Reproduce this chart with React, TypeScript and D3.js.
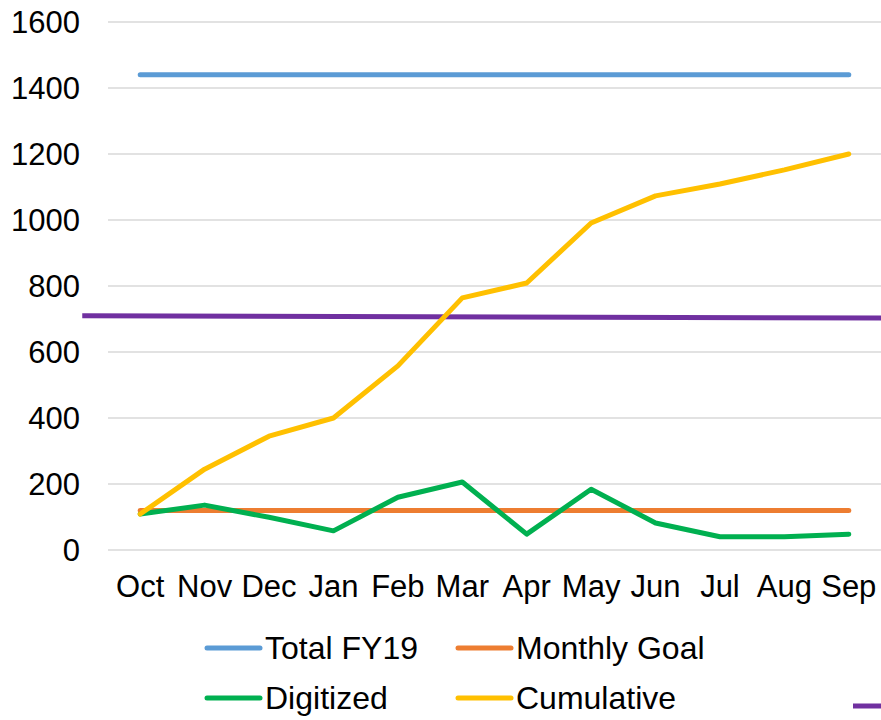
import * as d3 from 'd3'

const months = ['Oct', 'Nov', 'Dec', 'Jan', 'Feb', 'Mar', 'Apr', 'May', 'Jun', 'Jul', 'Aug', 'Sep']
const totalFY19 = [1440, 1440, 1440, 1440, 1440, 1440, 1440, 1440, 1440, 1440, 1440, 1440]
const monthlyGoal = [120, 120, 120, 120, 120, 120, 120, 120, 120, 120, 120, 120]
const digitized = [109, 136, 99, 58, 160, 206, 48, 184, 82, 40, 40, 48]
const cumulative = [109, 245, 345, 400, 558, 764, 809, 991, 1073, 1109, 1152, 1200]
// unlabeled series whose legend entry is cut off at the right edge
const extraIdx = [-0.9, 11.7]
const extraVals = [710, 703]
const yTicks = [0, 200, 400, 600, 800, 1000, 1200, 1400, 1600]

const series = [
  { name: 'Total FY19', values: totalFY19, color: '#5B9BD5' },
  { name: 'Monthly Goal', values: monthlyGoal, color: '#ED7D31' },
  { name: 'Digitized', values: digitized, color: '#00B050' },
  { name: 'Cumulative', values: cumulative, color: '#FFC000' },
]

const width = 881
const height = 720
const margin = { top: 22, right: 0, bottom: 170, left: 108 }
const font = '"Liberation Sans", Arial, sans-serif'

export default function App() {
  const x = d3.scaleBand().domain(months).range([margin.left, width - margin.right])
  const xi = d3
    .scaleLinear()
    .domain([-0.5, months.length - 0.5])
    .range([margin.left, width - margin.right])
  const y = d3.scaleLinear().domain([0, 1600]).range([height - margin.bottom, margin.top])

  const line = d3
    .line<number>()
    .x((_, i) => xi(i))
    .y((d) => y(d))

  const extraLine = d3
    .line<number>()
    .x((d) => xi(d))
    .y((_, i) => y(extraVals[i]))

  const legendCols = [207, 458]
  const legendRows = [648, 698]

  return (
    <svg width={width} height={height} style={{ display: 'block', fontFamily: font }}>
      <style>{`body{margin:0}`}</style>
      <rect width={width} height={height} fill="#fff" />
      <g className="grid">
        {yTicks.map((t) => (
          <g key={t}>
            <line
              x1={margin.left}
              x2={width - margin.right}
              y1={y(t)}
              y2={y(t)}
              stroke="#D9D9D9"
              strokeWidth={1.5}
            />
            <text x={80} y={y(t)} dy="0.35em" textAnchor="end" fontSize={31} fill="#000">
              {t}
            </text>
          </g>
        ))}
      </g>
      <g className="x-axis">
        {months.map((m) => (
          <text
            key={m}
            x={(x(m) ?? 0) + x.bandwidth() / 2}
            y={586}
            dy="0.35em"
            textAnchor="middle"
            fontSize={31}
            fill="#000"
          >
            {m}
          </text>
        ))}
      </g>
      <path
        d={extraLine(extraIdx) ?? ''}
        fill="none"
        stroke="#7030A0"
        strokeWidth={5}
      />
      {series.map((s) => (
        <path
          key={s.name}
          d={line(s.values) ?? ''}
          fill="none"
          stroke={s.color}
          strokeWidth={5}
          strokeLinecap="round"
          strokeLinejoin="round"
        />
      ))}
      <g className="legend">
        {series.map((s, i) => {
          const lx = legendCols[i % 2]
          const ly = legendRows[Math.floor(i / 2)]
          return (
            <g key={s.name}>
              <line
                x1={lx}
                x2={lx + 53}
                y1={ly}
                y2={ly}
                stroke={s.color}
                strokeWidth={5}
                strokeLinecap="round"
              />
              <text x={lx + 58} y={ly} dy="0.35em" fontSize={32} fill="#000">
                {s.name}
              </text>
            </g>
          )
        })}
        <line x1={853} x2={900} y1={706} y2={706} stroke="#7030A0" strokeWidth={5} />
      </g>
    </svg>
  )
}
